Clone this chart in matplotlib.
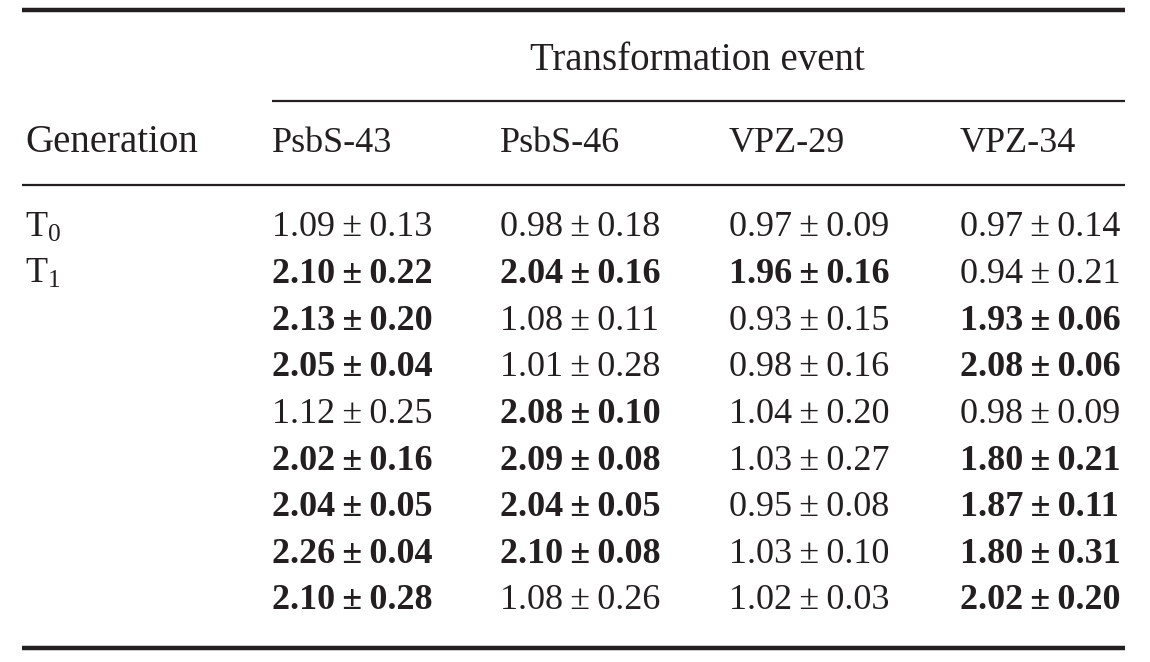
import matplotlib
matplotlib.use("Agg")
import matplotlib.pyplot as plt

plt.rcParams["mathtext.fontset"] = "custom"
plt.rcParams["mathtext.rm"] = "Liberation Serif"
plt.rcParams["mathtext.it"] = "Liberation Serif:italic"
plt.rcParams["mathtext.bf"] = "Liberation Serif:bold"

# ---- data ----
header_title = "Transformation event"
row_header = "Generation"
events = ["PsbS-43", "PsbS-46", "VPZ-29", "VPZ-34"]
generations = ["T$_0$", "T$_1$"]

psbs43_mean = [1.09, 2.10, 2.13, 2.05, 1.12, 2.02, 2.04, 2.26, 2.10]
psbs43_sd = [0.13, 0.22, 0.20, 0.04, 0.25, 0.16, 0.05, 0.04, 0.28]
psbs46_mean = [0.98, 2.04, 1.08, 1.01, 2.08, 2.09, 2.04, 2.10, 1.08]
psbs46_sd = [0.18, 0.16, 0.11, 0.28, 0.10, 0.08, 0.05, 0.08, 0.26]
vpz29_mean = [0.97, 1.96, 0.93, 0.98, 1.04, 1.03, 0.95, 1.03, 1.02]
vpz29_sd = [0.09, 0.16, 0.15, 0.16, 0.20, 0.27, 0.08, 0.10, 0.03]
vpz34_mean = [0.97, 0.94, 1.93, 2.08, 0.98, 1.80, 1.87, 1.80, 2.02]
vpz34_sd = [0.14, 0.21, 0.06, 0.06, 0.09, 0.21, 0.11, 0.31, 0.20]
bold_psbs43 = [False, True, True, True, False, True, True, True, True]
bold_psbs46 = [False, True, False, False, True, True, True, True, False]
bold_vpz29 = [False, True, False, False, False, False, False, False, False]
bold_vpz34 = [False, False, True, True, False, True, True, True, True]

columns = [
    (psbs43_mean, psbs43_sd, bold_psbs43),
    (psbs46_mean, psbs46_sd, bold_psbs46),
    (vpz29_mean, vpz29_sd, bold_vpz29),
    (vpz34_mean, vpz34_sd, bold_vpz34),
]

# ---- layout ----
W, H = 1150, 662
fig = plt.figure(figsize=(W / 100, H / 100), dpi=100)
ax = fig.add_axes([0, 0, 1, 1])
ax.set_xlim(0, W)
ax.set_ylim(H, 0)
ax.axis("off")

FONT = "Liberation Serif"
COLOR = "#231f20"
FS = 26
FS_BIG = 28

left, right = 22, 1125
col_x = [272, 500, 729, 960]
row_y0, row_dy = 228, 46.6

ax.plot([left, right], [10, 10], color=COLOR, lw=3.2, solid_capstyle="butt")
ax.plot([col_x[0], right], [101, 101], color=COLOR, lw=1.6, solid_capstyle="butt")
ax.plot([left, right], [185, 185], color=COLOR, lw=1.6, solid_capstyle="butt")
ax.plot([left, right], [648, 648], color=COLOR, lw=3.2, solid_capstyle="butt")

ax.text(697, 60, header_title, ha="center", va="center",
        fontsize=FS_BIG, family=FONT, color=COLOR)
ax.text(25, 143, row_header, ha="left", va="center", fontsize=FS_BIG, family=FONT, color=COLOR)
for x, name in zip(col_x, events):
    ax.text(x, 143, name, ha="left", va="center", fontsize=FS, family=FONT, color=COLOR)

for i, g in enumerate(generations):
    ax.text(25, row_y0 + i * row_dy, g, ha="left", va="center", fontsize=FS,
            family=FONT, color=COLOR)

for x, (means, sds, bolds) in zip(col_x, columns):
    for i, (m, s, b) in enumerate(zip(means, sds, bolds)):
        ax.text(x, row_y0 + i * row_dy, f"{m:.2f}\u2009\u00b1\u2009{s:.2f}", ha="left",
                va="center", fontsize=FS, family=FONT, color=COLOR,
                fontweight="bold" if b else "normal")

fig.savefig("out.png", dpi=100, facecolor="white")
